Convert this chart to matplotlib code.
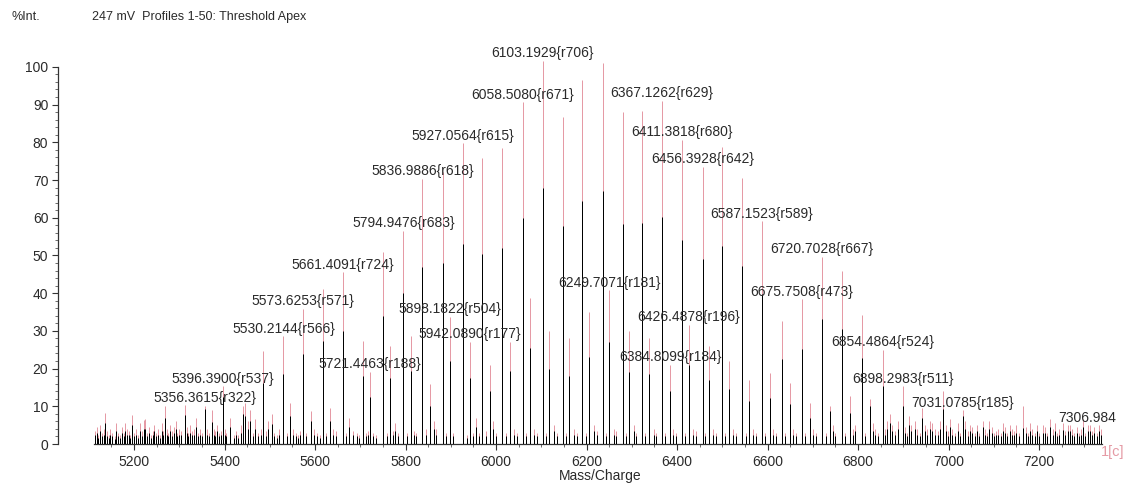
import matplotlib
matplotlib.use("Agg")
import matplotlib.pyplot as plt
from matplotlib.ticker import FixedLocator
import numpy as np

plt.rcParams['font.family'] = ['Liberation Sans', 'DejaVu Sans']

# ---------------- data ----------------
# main (high) series: m/z, top (pink, %Int) and inner profile (black, %Int)
main_mz = [5180, 5225, 5268, 5312, 5356.3615, 5396.3900, 5441, 5486, 5530.2144,
           5573.6253, 5617, 5661.4091, 5706, 5750, 5794.9476, 5836.9886, 5882,
           5927.0564, 5970, 6014, 6058.5080, 6103.1929, 6147, 6191, 6236, 6280,
           6323, 6367.1262, 6411.3818, 6456.3928, 6500, 6544, 6587.1523, 6631,
           6675.7508, 6720.7028, 6765, 6809, 6854.4864, 6898.2983, 6942, 6987,
           7031.0785, 7075, 7120, 7164, 7208, 7253, 7306.984]
main_pink = [5.5, 6.5, 10.0, 10.3, 10.1, 15.3, 10.0, 24.7, 28.6,
             35.9, 41.0, 45.5, 27.3, 51.0, 56.6, 70.3, 72.0,
             79.8, 75.9, 78.5, 90.6, 101.6, 86.7, 96.5, 101.0, 87.9,
             88.3, 91.0, 80.7, 73.5, 78.8, 70.6, 59.0, 32.6,
             38.4, 49.7, 45.9, 34.2, 25.0, 15.3, 9.6, 14.0,
             9.0, 6.0, 5.5, 10.0, 5.0, 5.5, 5.0]
main_black = [3.5, 4.0, 6.9, 7.7, 9.2, 12.5, 8.0, 16.3, 18.6,
              23.9, 27.3, 30.0, 18.0, 34.0, 40.0, 47.0, 48.0,
              53.0, 50.5, 52.0, 60.0, 68.0, 57.8, 64.5, 67.0, 58.4,
              58.7, 60.2, 54.0, 49.0, 52.5, 47.2, 39.8, 22.5,
              25.2, 33.2, 30.5, 22.8, 15.4, 10.1, 7.0, 9.3,
              7.5, 4.5, 3.5, 4.3, 3.0, 3.8, 3.5]

# secondary series (about +15 Da)
sec_mz = [5412, 5456, 5504, 5545, 5590, 5633, 5676, 5721.4463, 5766, 5811, 5854,
          5898.1822, 5942.0890, 5987, 6031, 6075, 6118, 6162, 6206, 6249.7071,
          6294, 6338, 6384.8099, 6426.4878, 6470, 6514, 6560, 6606, 6650, 6694,
          6738, 6782, 6826, 6870, 6913, 6958, 7003, 7047, 7090, 7135, 7180,
          7224, 7268]
sec_pink = [7.0, 9.0, 8.0, 11.0, 8.8, 9.5, 7.0, 19.2, 26.0, 28.6, 16.0,
            33.7, 27.1, 21.0, 27.0, 38.8, 30.0, 28.0, 35.0, 40.8,
            30.0, 28.0, 21.0, 31.6, 26.0, 22.0, 17.0, 18.9, 16.3, 11.0,
            10.0, 12.7, 11.9, 8.0, 7.5, 6.0, 6.5, 5.0, 6.0, 5.0, 5.5,
            6.5, 5.0]
sec_black = [4.5, 6.0, 5.3, 7.4, 6.0, 6.0, 4.5, 12.5, 17.6, 19.4, 10.0,
             22.0, 17.6, 14.0, 19.4, 25.5, 20.0, 18.0, 23.0, 27.0,
             19.0, 18.5, 14.0, 21.0, 17.0, 14.5, 11.4, 12.3, 10.6, 7.0,
             8.8, 8.3, 10.0, 5.5, 5.0, 4.0, 4.5, 3.5, 4.0, 3.5, 3.5,
             4.5, 3.5]

# small peaks / noise
minor_mz = [5114, 5118, 5121, 5125, 5129, 5133, 5136, 5140, 5144, 5148, 5152, 5157,
            5161, 5165, 5169, 5173, 5177, 5185, 5189, 5192, 5196, 5200, 5204, 5208,
            5213, 5217, 5221, 5229, 5233, 5237, 5241, 5245, 5249, 5253, 5257, 5261,
            5264, 5272, 5276, 5280, 5284, 5288, 5292, 5296, 5300, 5304, 5316, 5320,
            5324, 5328, 5332, 5338, 5342, 5346, 5350, 5361, 5365, 5372, 5376, 5380,
            5384, 5388, 5392, 5400, 5404, 5420, 5425, 5430, 5436, 5446, 5451, 5462,
            5468, 5474, 5480, 5492, 5497, 5510, 5516, 5520, 5537, 5552, 5557, 5562,
            5566, 5580, 5598, 5604, 5610, 5624, 5640, 5646, 5668, 5684, 5692, 5698,
            5712, 5716, 5728, 5735, 5758, 5772, 5777, 5784, 5803, 5818, 5824, 5845,
            5862, 5868, 5890, 5905, 5935, 5950, 5956, 5962, 5978, 5994, 6000, 6022,
            6040, 6046, 6066, 6084, 6090, 6110, 6128, 6135, 6154, 6172, 6178, 6198,
            6216, 6222, 6242, 6260, 6266, 6287, 6304, 6310, 6330, 6348, 6354, 6374,
            6392, 6398, 6418, 6436, 6442, 6462, 6480, 6486, 6506, 6524, 6530, 6552,
            6568, 6574, 6594, 6612, 6618, 6638, 6656, 6662, 6683, 6700, 6706, 6728,
            6744, 6750, 6772, 6788, 6794, 6816, 6832, 6838, 6844, 6860, 6864, 6876,
            6882, 6888, 6904, 6908, 6918, 6925, 6930, 6936, 6948, 6952, 6964, 6970,
            6976, 6982, 6994, 6998, 7008, 7014, 7020, 7026, 7037, 7042, 7052, 7058,
            7063, 7068, 7080, 7085, 7095, 7100, 7105, 7110, 7115, 7125, 7130, 7140,
            7145, 7150, 7155, 7170, 7175, 7185, 7190, 7195, 7200, 7213, 7218, 7230,
            7235, 7240, 7245, 7258, 7263, 7273, 7278, 7283, 7288, 7293, 7297, 7302,
            7312, 7317, 7322, 7327, 7332, 7336]
minor_pink = [3.5, 4.5, 2.5, 5.0, 3.0, 4.0, 8.2, 3.5, 2.5, 4.0, 3.0, 2.0,
              5.5, 3.0, 2.5, 4.5, 3.0, 4.0, 3.5, 2.5, 7.7, 3.0, 4.0, 2.5,
              5.5, 3.5, 6.4, 3.0, 4.5, 2.5, 3.5, 5.0, 3.0, 4.0, 2.5, 5.5,
              3.5, 4.0, 3.0, 5.0, 3.5, 4.5, 6.0, 3.0, 4.0, 3.5, 4.5, 3.0,
              5.0, 3.5, 4.0, 7.0, 3.0, 4.0, 3.0, 4.0, 3.0, 9.0, 4.0, 3.5,
              5.0, 3.0, 3.5, 4.0, 3.0, 2.5, 3.5, 2.5, 5.0, 11.0, 6.0, 3.0,
              6.5, 3.0, 4.0, 3.5, 6.0, 3.0, 2.5, 4.0, 3.0, 4.0, 3.0, 2.5,
              3.5, 3.0, 4.0, 3.0, 2.5, 3.0, 4.0, 3.5, 3.0, 3.5, 3.0, 2.5,
              3.0, 3.5, 3.0, 2.5, 3.0, 3.5, 5.5, 3.0, 3.0, 3.5, 3.0, 4.0,
              6.0, 4.0, 3.0, 3.0, 2.5, 3.0, 7.0, 3.0, 3.5, 6.0, 3.0, 3.0,
              4.0, 3.0, 3.0, 4.0, 3.0, 3.0, 5.0, 3.0, 3.0, 4.0, 3.0, 3.0,
              5.0, 3.5, 3.0, 4.0, 3.5, 3.0, 5.0, 3.0, 3.0, 4.0, 3.0, 3.0,
              4.0, 3.0, 3.0, 4.0, 3.5, 3.0, 4.0, 3.0, 3.0, 4.0, 3.0, 3.0,
              4.0, 3.0, 3.0, 4.0, 3.0, 3.0, 4.0, 3.0, 3.0, 4.0, 3.0, 3.0,
              5.0, 3.0, 3.0, 4.0, 5.0, 3.0, 5.5, 4.0, 3.0, 4.0, 6.0, 5.0,
              3.5, 6.0, 4.5, 3.0, 5.0, 6.0, 4.0, 3.0, 5.0, 4.0, 5.5, 4.0,
              3.5, 6.0, 5.0, 3.5, 4.0, 3.0, 5.5, 3.0, 6.0, 3.5, 4.5, 3.0,
              5.0, 3.0, 4.0, 3.0, 4.5, 3.0, 3.5, 4.0, 3.0, 4.5, 3.0, 4.0,
              3.5, 5.0, 3.0, 4.5, 3.0, 4.0, 3.0, 5.0, 3.0, 4.5, 3.0, 4.0,
              5.5, 3.0, 4.0, 3.5, 5.0, 4.0, 3.0, 4.5, 3.0, 4.0, 6.5, 3.0,
              5.0, 3.5, 4.5, 3.0, 5.0, 4.0]
minor_black = [2.5, 3.0, 1.5, 3.5, 2.0, 2.5, 5.5, 2.0, 1.5, 2.5, 2.0, 1.2,
               3.5, 2.0, 1.5, 3.0, 2.0, 2.5, 2.5, 1.5, 5.0, 2.0, 2.5, 1.5,
               3.5, 2.0, 4.0, 2.0, 3.0, 1.5, 2.5, 3.5, 2.0, 2.5, 1.5, 3.5,
               2.5, 2.5, 2.0, 3.5, 2.0, 3.0, 4.0, 2.0, 2.5, 2.5, 3.0, 2.0,
               3.0, 2.5, 2.5, 4.5, 2.0, 2.5, 2.0, 2.5, 2.0, 5.9, 2.5, 2.0,
               3.5, 2.0, 2.5, 2.5, 2.0, 1.5, 2.5, 1.5, 3.0, 7.5, 4.0, 2.0,
               4.0, 2.0, 2.5, 2.0, 4.0, 2.0, 1.5, 2.5, 2.0, 2.5, 2.0, 1.5,
               2.5, 2.0, 2.5, 2.0, 1.5, 2.0, 2.5, 2.0, 2.0, 2.5, 2.0, 1.5,
               2.0, 2.5, 2.0, 1.5, 2.0, 2.5, 3.5, 2.0, 2.0, 2.5, 2.0, 2.5,
               4.0, 2.5, 2.0, 2.0, 1.5, 2.0, 4.5, 2.0, 2.0, 4.0, 2.0, 2.0,
               2.5, 2.0, 2.0, 2.5, 2.0, 2.0, 3.5, 2.0, 2.0, 2.5, 2.0, 2.0,
               3.5, 2.5, 2.0, 2.5, 2.0, 2.0, 3.5, 2.0, 2.0, 2.5, 2.0, 2.0,
               2.5, 2.0, 2.0, 2.5, 2.0, 2.0, 2.5, 2.0, 2.0, 2.5, 2.0, 2.0,
               2.5, 2.0, 2.0, 2.5, 2.0, 2.0, 2.5, 2.0, 2.0, 2.5, 2.0, 2.0,
               3.5, 2.0, 2.0, 2.5, 3.5, 2.0, 3.5, 2.5, 2.0, 2.5, 4.0, 3.5,
               2.5, 4.0, 3.0, 2.0, 3.5, 4.0, 2.5, 2.0, 3.5, 2.5, 3.5, 2.5,
               2.5, 4.0, 3.5, 2.0, 2.5, 2.0, 3.5, 2.0, 4.0, 2.0, 3.0, 2.0,
               3.5, 2.0, 2.5, 2.0, 3.0, 2.0, 2.5, 2.5, 2.0, 3.0, 2.0, 2.5,
               2.5, 3.0, 2.0, 3.0, 2.0, 2.5, 2.0, 3.5, 2.0, 3.0, 2.0, 2.5,
               3.5, 2.0, 2.5, 2.5, 3.5, 2.5, 2.0, 3.0, 2.0, 2.5, 4.5, 2.0,
               3.5, 2.5, 3.0, 2.0, 3.5, 2.5]

# annotated peaks
label_mz = [5356.3615, 5396.3900, 5530.2144, 5573.6253, 5661.4091, 5721.4463,
            5794.9476, 5836.9886, 5898.1822, 5927.0564, 5942.0890, 6058.5080,
            6103.1929, 6249.7071, 6367.1262, 6384.8099, 6411.3818, 6426.4878,
            6456.3928, 6587.1523, 6675.7508, 6720.7028, 6854.4864, 6898.2983,
            7031.0785, 7306.984]
label_text = ["5356.3615{r322}", "5396.3900{r537}", "5530.2144{r566}",
              "5573.6253{r571}", "5661.4091{r724}", "5721.4463{r188}",
              "5794.9476{r683}", "5836.9886{r618}", "5898.1822{r504}",
              "5927.0564{r615}", "5942.0890{r177}", "6058.5080{r671}",
              "6103.1929{r706}", "6249.7071{r181}", "6367.1262{r629}",
              "6384.8099{r184}", "6411.3818{r680}", "6426.4878{r196}",
              "6456.3928{r642}", "6587.1523{r589}", "6675.7508{r473}",
              "6720.7028{r667}", "6854.4864{r524}", "6898.2983{r511}",
              "7031.0785{r185}", "7306.984"]

x_ticks = [5200, 5400, 5600, 5800, 6000, 6200, 6400, 6600, 6800, 7000, 7200]
x_minor = [5150, 5250, 5300, 5350, 5450, 5500, 5550, 5650, 5700, 5750, 5850,
           5900, 5950, 6050, 6100, 6150, 6250, 6300, 6350, 6450, 6500, 6550,
           6650, 6700, 6750, 6850, 6900, 6950, 7050, 7100, 7150, 7250, 7300]
y_ticks = [0, 10, 20, 30, 40, 50, 60, 70, 80, 90, 100]
y_minor = [v for v in range(2, 100, 2) if v % 10 != 0]

# ---------------- figure ----------------
W, H = 1126, 483
fig = plt.figure(figsize=(W / 100, H / 100), dpi=100)

PINK = '#e59aa5'
BLACK = '#000000'
TXT = '#2a2a2a'

ax_left, ax_right = 58, 1102
base_px, top_px = 444, 48
ax = fig.add_axes([ax_left / W, (H - base_px) / H,
                   (ax_right - ax_left) / W, (base_px - top_px) / H])
ax.set_xlim(5032, 7339)
ax.set_ylim(0, 105)

all_mz = np.concatenate([minor_mz, sec_mz, main_mz])
all_pink = np.concatenate([minor_pink, sec_pink, main_pink])
all_black = np.concatenate([minor_black, sec_black, main_black])

ax.vlines(all_mz, 0, all_pink, color=PINK, lw=0.72, snap=True, zorder=2)
ax.vlines(all_mz, 0, all_black, color=BLACK, lw=0.72, snap=True, zorder=3)

for mz, txt in zip(label_mz, label_text):
    h = all_pink[np.argmin(np.abs(all_mz - mz))]
    ax.annotate(txt, (mz, h), xytext=(0, 2.5), textcoords='offset points',
                ha='center', va='baseline', fontsize=10, color=TXT,
                annotation_clip=False, zorder=5)

for s in ['top', 'right']:
    ax.spines[s].set_visible(False)
ax.spines['left'].set_bounds(0, 100)
ax.spines['bottom'].set_bounds(5112, 7339)
ax.spines['left'].set_color('#333333')
ax.spines['bottom'].set_color('#333333')
ax.spines['left'].set_linewidth(0.9)
ax.spines['bottom'].set_linewidth(0.9)

ax.set_xticks(x_ticks)
ax.set_xticklabels([str(t) for t in x_ticks])
ax.xaxis.set_minor_locator(FixedLocator(x_minor))
ax.set_yticks(y_ticks)
ax.set_yticklabels([str(t) for t in y_ticks])
ax.yaxis.set_minor_locator(FixedLocator(y_minor))
ax.tick_params(axis='both', which='major', direction='out', length=4,
               width=0.8, color='#333333', labelsize=10, labelcolor=TXT)
ax.tick_params(axis='x', which='major', pad=4)
ax.tick_params(axis='y', which='major', pad=3)
ax.tick_params(axis='both', which='minor', direction='out', length=2,
               width=0.6, color='#555555')

fig.text(600 / W, 1 - 476 / H, 'Mass/Charge', ha='center', va='center',
         fontsize=10, color=TXT)
fig.text(12 / W, 1 - 17 / H, '%Int.', ha='left', va='center',
         fontsize=9, color=TXT)
fig.text(92 / W, 1 - 17 / H, '247 mV  Profiles 1-50: Threshold Apex',
         ha='left', va='center', fontsize=9, color=TXT)
fig.text(1124 / W, 1 - 452 / H, '1[c]', ha='right', va='center',
         fontsize=10.5, color=PINK)

fig.savefig('out.png', dpi=100)
